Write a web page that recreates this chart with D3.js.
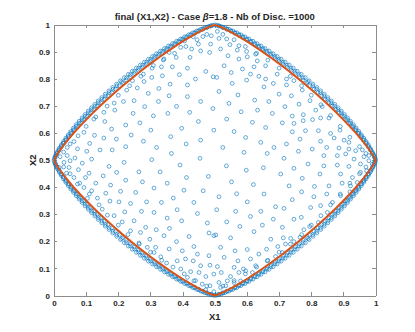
<!DOCTYPE html>
<html>
<head>
<meta charset="utf-8">
<script src="https://cdn.jsdelivr.net/npm/d3@7"></script>
<style>
  body { margin: 0; background: #fff; }
  text { font-family: "Liberation Sans", Arial, Helvetica, sans-serif; fill: #262626; }
</style>
</head>
<body>
<div id="scatter"></div>
<script>
// tick values and labels (same for X1 and X2)
var ticks = [0, 0.1, 0.2, 0.3, 0.4, 0.5, 0.6, 0.7, 0.8, 0.9, 1];
var tickLabels = ["0", "0.1", "0.2", "0.3", "0.4", "0.5", "0.6", "0.7", "0.8", "0.9", "1"];

// orange boundary line, [X1, X2]
var boundary = [
  [0.5,1],[0.51,0.9962],[0.525,0.9885],[0.55,0.9735],[0.575,0.9569],[0.6,0.939],[0.625,0.9197],[0.65,0.8995],[0.675,0.8787],[0.7,0.8568],[0.725,0.8341],[0.75,0.8106],[0.7806,0.7806],[0.8106,0.75],[0.8341,0.725],[0.8568,0.7],[0.8787,0.675],[0.8995,0.65],[0.9197,0.625],[0.939,0.6],[0.9569,0.575],[0.9735,0.55],[0.9885,0.525],[0.9962,0.51],[1,0.5],
  [0.9962,0.49],[0.9885,0.475],[0.9735,0.45],[0.9569,0.425],[0.939,0.4],[0.9197,0.375],[0.8995,0.35],[0.8787,0.325],[0.8568,0.3],[0.8341,0.275],[0.8106,0.25],[0.7806,0.2194],[0.75,0.1894],[0.725,0.1659],[0.7,0.1432],[0.675,0.1213],[0.65,0.1005],[0.625,0.0803],[0.6,0.061],[0.575,0.0431],[0.55,0.0265],[0.525,0.0115],[0.51,0.0038],[0.5,0],
  [0.49,0.0038],[0.475,0.0115],[0.45,0.0265],[0.425,0.0431],[0.4,0.061],[0.375,0.0803],[0.35,0.1005],[0.325,0.1213],[0.3,0.1432],[0.275,0.1659],[0.25,0.1894],[0.2194,0.2194],[0.1894,0.25],[0.1659,0.275],[0.1432,0.3],[0.1213,0.325],[0.1005,0.35],[0.0803,0.375],[0.061,0.4],[0.0431,0.425],[0.0265,0.45],[0.0115,0.475],[0.0038,0.49],[0,0.5],
  [0.0038,0.51],[0.0115,0.525],[0.0265,0.55],[0.0431,0.575],[0.061,0.6],[0.0803,0.625],[0.1005,0.65],[0.1213,0.675],[0.1432,0.7],[0.1659,0.725],[0.1894,0.75],[0.2194,0.7806],[0.25,0.8106],[0.275,0.8341],[0.3,0.8568],[0.325,0.8787],[0.35,0.8995],[0.375,0.9197],[0.4,0.939],[0.425,0.9569],[0.45,0.9735],[0.475,0.9885],[0.49,0.9962],[0.5,1]
];

// discs packed on the edge, first row (just outside the orange line)
var edgeDiscsA = [
  [0.5,1],[0.5125,0.9958],[0.525,0.9902],[0.5375,0.9837],[0.55,0.9767],[0.5625,0.9692],[0.575,0.9613],[0.5875,0.953],[0.6,0.9444],[0.6125,0.9356],[0.625,0.9264],[0.6375,0.9169],[0.65,0.9072],[0.6625,0.8972],[0.675,0.887],[0.6875,0.8766],[0.7,0.8659],[0.7125,0.855],[0.725,0.8438],[0.7375,0.8324],[0.75,0.8207],[0.7625,0.8088],[0.775,0.7967],[0.786,0.786],[0.7967,0.775],[0.8088,0.7625],[0.8207,0.75],[0.8324,0.7375],[0.8438,0.725],[0.855,0.7125],[0.8659,0.7],[0.8766,0.6875],[0.887,0.675],[0.8972,0.6625],[0.9072,0.65],[0.9169,0.6375],[0.9264,0.625],[0.9356,0.6125],[0.9444,0.6],[0.953,0.5875],[0.9613,0.575],[0.9692,0.5625],[0.9767,0.55],[0.9837,0.5375],[0.9902,0.525],[0.9958,0.5125],[1,0.5],
  [0.5,0],[0.5125,0.0042],[0.525,0.0098],[0.5375,0.0163],[0.55,0.0233],[0.5625,0.0308],[0.575,0.0387],[0.5875,0.047],[0.6,0.0556],[0.6125,0.0644],[0.625,0.0736],[0.6375,0.0831],[0.65,0.0928],[0.6625,0.1028],[0.675,0.113],[0.6875,0.1234],[0.7,0.1341],[0.7125,0.145],[0.725,0.1562],[0.7375,0.1676],[0.75,0.1793],[0.7625,0.1912],[0.775,0.2033],[0.786,0.214],[0.7967,0.225],[0.8088,0.2375],[0.8207,0.25],[0.8324,0.2625],[0.8438,0.275],[0.855,0.2875],[0.8659,0.3],[0.8766,0.3125],[0.887,0.325],[0.8972,0.3375],[0.9072,0.35],[0.9169,0.3625],[0.9264,0.375],[0.9356,0.3875],[0.9444,0.4],[0.953,0.4125],[0.9613,0.425],[0.9692,0.4375],[0.9767,0.45],[0.9837,0.4625],[0.9902,0.475],[0.9958,0.4875],
  [0.4875,0.0042],[0.475,0.0098],[0.4625,0.0163],[0.45,0.0233],[0.4375,0.0308],[0.425,0.0387],[0.4125,0.047],[0.4,0.0556],[0.3875,0.0644],[0.375,0.0736],[0.3625,0.0831],[0.35,0.0928],[0.3375,0.1028],[0.325,0.113],[0.3125,0.1234],[0.3,0.1341],[0.2875,0.145],[0.275,0.1562],[0.2625,0.1676],[0.25,0.1793],[0.2375,0.1912],[0.225,0.2033],[0.214,0.214],[0.2033,0.225],[0.1912,0.2375],[0.1793,0.25],[0.1676,0.2625],[0.1562,0.275],[0.145,0.2875],[0.1341,0.3],[0.1234,0.3125],[0.113,0.325],[0.1028,0.3375],[0.0928,0.35],[0.0831,0.3625],[0.0736,0.375],[0.0644,0.3875],[0.0556,0.4],[0.047,0.4125],[0.0387,0.425],[0.0308,0.4375],[0.0233,0.45],[0.0163,0.4625],[0.0098,0.475],[0.0042,0.4875],[0,0.5],
  [0.4875,0.9958],[0.475,0.9902],[0.4625,0.9837],[0.45,0.9767],[0.4375,0.9692],[0.425,0.9613],[0.4125,0.953],[0.4,0.9444],[0.3875,0.9356],[0.375,0.9264],[0.3625,0.9169],[0.35,0.9072],[0.3375,0.8972],[0.325,0.887],[0.3125,0.8766],[0.3,0.8659],[0.2875,0.855],[0.275,0.8438],[0.2625,0.8324],[0.25,0.8207],[0.2375,0.8088],[0.225,0.7967],[0.214,0.786],[0.2033,0.775],[0.1912,0.7625],[0.1793,0.75],[0.1676,0.7375],[0.1562,0.725],[0.145,0.7125],[0.1341,0.7],[0.1234,0.6875],[0.113,0.675],[0.1028,0.6625],[0.0928,0.65],[0.0831,0.6375],[0.0736,0.625],[0.0644,0.6125],[0.0556,0.6],[0.047,0.5875],[0.0387,0.575],[0.0308,0.5625],[0.0233,0.55],[0.0163,0.5375],[0.0098,0.525],[0.0042,0.5125]
];

// discs packed on the edge, middle row
var edgeDiscsC = [
  [0.5125,0.9964],[0.525,0.9912],[0.5375,0.9853],[0.55,0.9787],[0.5625,0.9717],[0.575,0.9643],[0.5875,0.9565],[0.6,0.9483],[0.6125,0.9398],[0.625,0.931],[0.6375,0.9219],[0.65,0.9125],[0.6625,0.9029],[0.675,0.8929],[0.6875,0.8828],[0.7,0.8723],[0.7125,0.8616],[0.725,0.8507],[0.7375,0.8394],[0.75,0.828],[0.7625,0.8162],[0.775,0.8042],[0.7897,0.7897],[0.8042,0.775],[0.8162,0.7625],[0.828,0.75],[0.8394,0.7375],[0.8507,0.725],[0.8616,0.7125],[0.8723,0.7],[0.8828,0.6875],[0.8929,0.675],[0.9029,0.6625],[0.9125,0.65],[0.9219,0.6375],[0.931,0.625],[0.9398,0.6125],[0.9483,0.6],[0.9565,0.5875],[0.9643,0.575],[0.9717,0.5625],[0.9787,0.55],[0.9853,0.5375],[0.9912,0.525],[0.9964,0.5125],
  [0.5125,0.0036],[0.525,0.0088],[0.5375,0.0147],[0.55,0.0213],[0.5625,0.0283],[0.575,0.0357],[0.5875,0.0435],[0.6,0.0517],[0.6125,0.0602],[0.625,0.069],[0.6375,0.0781],[0.65,0.0875],[0.6625,0.0971],[0.675,0.1071],[0.6875,0.1172],[0.7,0.1277],[0.7125,0.1384],[0.725,0.1493],[0.7375,0.1606],[0.75,0.172],[0.7625,0.1838],[0.775,0.1958],[0.7897,0.2103],[0.8042,0.225],[0.8162,0.2375],[0.828,0.25],[0.8394,0.2625],[0.8507,0.275],[0.8616,0.2875],[0.8723,0.3],[0.8828,0.3125],[0.8929,0.325],[0.9029,0.3375],[0.9125,0.35],[0.9219,0.3625],[0.931,0.375],[0.9398,0.3875],[0.9483,0.4],[0.9565,0.4125],[0.9643,0.425],[0.9717,0.4375],[0.9787,0.45],[0.9853,0.4625],[0.9912,0.475],[0.9964,0.4875],
  [0.4875,0.0036],[0.475,0.0088],[0.4625,0.0147],[0.45,0.0213],[0.4375,0.0283],[0.425,0.0357],[0.4125,0.0435],[0.4,0.0517],[0.3875,0.0602],[0.375,0.069],[0.3625,0.0781],[0.35,0.0875],[0.3375,0.0971],[0.325,0.1071],[0.3125,0.1172],[0.3,0.1277],[0.2875,0.1384],[0.275,0.1493],[0.2625,0.1606],[0.25,0.172],[0.2375,0.1838],[0.225,0.1958],[0.2103,0.2103],[0.1958,0.225],[0.1838,0.2375],[0.172,0.25],[0.1606,0.2625],[0.1493,0.275],[0.1384,0.2875],[0.1277,0.3],[0.1172,0.3125],[0.1071,0.325],[0.0971,0.3375],[0.0875,0.35],[0.0781,0.3625],[0.069,0.375],[0.0602,0.3875],[0.0517,0.4],[0.0435,0.4125],[0.0357,0.425],[0.0283,0.4375],[0.0213,0.45],[0.0147,0.4625],[0.0088,0.475],[0.0036,0.4875],
  [0.4875,0.9964],[0.475,0.9912],[0.4625,0.9853],[0.45,0.9787],[0.4375,0.9717],[0.425,0.9643],[0.4125,0.9565],[0.4,0.9483],[0.3875,0.9398],[0.375,0.931],[0.3625,0.9219],[0.35,0.9125],[0.3375,0.9029],[0.325,0.8929],[0.3125,0.8828],[0.3,0.8723],[0.2875,0.8616],[0.275,0.8507],[0.2625,0.8394],[0.25,0.828],[0.2375,0.8162],[0.225,0.8042],[0.2103,0.7897],[0.1958,0.775],[0.1838,0.7625],[0.172,0.75],[0.1606,0.7375],[0.1493,0.725],[0.1384,0.7125],[0.1277,0.7],[0.1172,0.6875],[0.1071,0.675],[0.0971,0.6625],[0.0875,0.65],[0.0781,0.6375],[0.069,0.625],[0.0602,0.6125],[0.0517,0.6],[0.0435,0.5875],[0.0357,0.575],[0.0283,0.5625],[0.0213,0.55],[0.0147,0.5375],[0.0088,0.525],[0.0036,0.5125]
];

// discs packed on the edge, outermost row
var edgeDiscsB = [
  [0.5063,0.9987],[0.5188,0.9946],[0.5313,0.9895],[0.5438,0.9837],[0.5563,0.9774],[0.5688,0.9706],[0.5813,0.9634],[0.5938,0.9558],[0.6063,0.9478],[0.6188,0.9395],[0.6313,0.9309],[0.6438,0.922],[0.6563,0.9128],[0.6688,0.9034],[0.6813,0.8936],[0.6938,0.8835],[0.7063,0.8732],[0.7188,0.8626],[0.7313,0.8517],[0.7438,0.8406],[0.7563,0.8291],[0.7688,0.8174],[0.7813,0.8053],[0.7934,0.7934],[0.8053,0.7813],[0.8174,0.7688],[0.8291,0.7563],[0.8406,0.7438],[0.8517,0.7313],[0.8626,0.7188],[0.8732,0.7063],[0.8835,0.6938],[0.8936,0.6813],[0.9034,0.6688],[0.9128,0.6563],[0.922,0.6438],[0.9309,0.6313],[0.9395,0.6188],[0.9478,0.6063],[0.9558,0.5938],[0.9634,0.5813],[0.9706,0.5688],[0.9774,0.5563],[0.9837,0.5438],[0.9895,0.5313],[0.9946,0.5188],[0.9987,0.5063],
  [0.5063,0.0013],[0.5188,0.0054],[0.5313,0.0105],[0.5438,0.0163],[0.5563,0.0226],[0.5688,0.0294],[0.5813,0.0366],[0.5938,0.0442],[0.6063,0.0522],[0.6188,0.0605],[0.6313,0.0691],[0.6438,0.078],[0.6563,0.0872],[0.6688,0.0966],[0.6813,0.1064],[0.6938,0.1165],[0.7063,0.1268],[0.7188,0.1374],[0.7313,0.1483],[0.7438,0.1594],[0.7563,0.1709],[0.7688,0.1826],[0.7813,0.1947],[0.7934,0.2066],[0.8053,0.2187],[0.8174,0.2312],[0.8291,0.2437],[0.8406,0.2562],[0.8517,0.2687],[0.8626,0.2812],[0.8732,0.2937],[0.8835,0.3062],[0.8936,0.3187],[0.9034,0.3312],[0.9128,0.3437],[0.922,0.3562],[0.9309,0.3687],[0.9395,0.3812],[0.9478,0.3937],[0.9558,0.4062],[0.9634,0.4187],[0.9706,0.4312],[0.9774,0.4437],[0.9837,0.4562],[0.9895,0.4687],[0.9946,0.4812],[0.9987,0.4937],
  [0.4937,0.0013],[0.4812,0.0054],[0.4687,0.0105],[0.4562,0.0163],[0.4437,0.0226],[0.4312,0.0294],[0.4187,0.0366],[0.4062,0.0442],[0.3937,0.0522],[0.3812,0.0605],[0.3687,0.0691],[0.3562,0.078],[0.3437,0.0872],[0.3312,0.0966],[0.3187,0.1064],[0.3062,0.1165],[0.2937,0.1268],[0.2812,0.1374],[0.2687,0.1483],[0.2562,0.1594],[0.2437,0.1709],[0.2312,0.1826],[0.2187,0.1947],[0.2066,0.2066],[0.1947,0.2187],[0.1826,0.2312],[0.1709,0.2437],[0.1594,0.2562],[0.1483,0.2687],[0.1374,0.2812],[0.1268,0.2937],[0.1165,0.3062],[0.1064,0.3187],[0.0966,0.3312],[0.0872,0.3437],[0.078,0.3562],[0.0691,0.3687],[0.0605,0.3812],[0.0522,0.3937],[0.0442,0.4062],[0.0366,0.4187],[0.0294,0.4312],[0.0226,0.4437],[0.0163,0.4562],[0.0105,0.4687],[0.0054,0.4812],[0.0013,0.4937],
  [0.4937,0.9987],[0.4812,0.9946],[0.4687,0.9895],[0.4562,0.9837],[0.4437,0.9774],[0.4312,0.9706],[0.4187,0.9634],[0.4062,0.9558],[0.3937,0.9478],[0.3812,0.9395],[0.3687,0.9309],[0.3562,0.922],[0.3437,0.9128],[0.3312,0.9034],[0.3187,0.8936],[0.3062,0.8835],[0.2937,0.8732],[0.2812,0.8626],[0.2687,0.8517],[0.2562,0.8406],[0.2437,0.8291],[0.2312,0.8174],[0.2187,0.8053],[0.2066,0.7934],[0.1947,0.7813],[0.1826,0.7688],[0.1709,0.7563],[0.1594,0.7438],[0.1483,0.7313],[0.1374,0.7188],[0.1268,0.7063],[0.1165,0.6938],[0.1064,0.6813],[0.0966,0.6688],[0.0872,0.6563],[0.078,0.6438],[0.0691,0.6313],[0.0605,0.6188],[0.0522,0.6063],[0.0442,0.5938],[0.0366,0.5813],[0.0294,0.5688],[0.0226,0.5563],[0.0163,0.5438],[0.0105,0.5313],[0.0054,0.5188],[0.0013,0.5063]
];

// discs spread inside the domain
var innerDiscs = [
  // upper left
  [0.433,0.956],[0.463,0.957],[0.489,0.960],[0.406,0.941],[0.449,0.929],[0.487,0.929],[0.358,0.898],[0.394,0.917],[0.428,0.911],[0.456,0.904],[0.484,0.898],[0.342,0.874],[0.380,0.880],[0.423,0.880],[0.334,0.845],[0.368,0.845],[0.415,0.840],[0.472,0.828],[0.304,0.806],[0.337,0.812],[0.390,0.816],[0.440,0.800],[0.495,0.808],[0.280,0.791],[0.361,0.781],[0.415,0.778],[0.259,0.767],[0.293,0.747],[0.326,0.765],[0.358,0.738],[0.415,0.735],[0.456,0.717],[0.216,0.717],[0.249,0.720],[0.282,0.698],[0.325,0.717],[0.381,0.699],[0.494,0.691],[0.189,0.685],[0.246,0.673],[0.309,0.664],[0.354,0.673],[0.422,0.677],[0.158,0.643],[0.223,0.630],[0.267,0.638],[0.301,0.611],[0.397,0.618],[0.449,0.643],[0.126,0.592],[0.179,0.615],[0.240,0.593],[0.497,0.611],[0.111,0.562],[0.155,0.582],[0.194,0.578],[0.278,0.570],[0.363,0.587],[0.456,0.574],[0.102,0.533],[0.143,0.538],[0.181,0.538],[0.223,0.550],[0.319,0.547],[0.411,0.560],[0.117,0.504],[0.304,0.502],[0.365,0.525],[0.454,0.507],[0.093,0.603],[0.062,0.569],[0.041,0.547],[0.073,0.542],[0.019,0.513],[0.041,0.517],[0.065,0.508],[0.124,0.652],[0.155,0.677],[0.187,0.711],[0.226,0.759],[0.244,0.794],[0.278,0.818],[0.309,0.850],
  [0.03,0.53],[0.05,0.56],[0.075,0.59],[0.10,0.625],[0.13,0.66],[0.165,0.70],[0.2,0.74],[0.235,0.775],[0.27,0.81],[0.305,0.84],[0.34,0.87],[0.375,0.895],[0.41,0.92],[0.445,0.945],[0.475,0.965],
  // upper right
  [0.508,0.976],[0.513,0.950],[0.537,0.948],[0.547,0.927],[0.575,0.923],[0.518,0.911],[0.570,0.907],[0.599,0.902],[0.541,0.886],[0.601,0.882],[0.627,0.892],[0.575,0.874],[0.632,0.867],[0.529,0.849],[0.586,0.837],[0.622,0.845],[0.658,0.849],[0.551,0.824],[0.611,0.818],[0.637,0.810],[0.694,0.818],[0.506,0.806],[0.599,0.796],[0.658,0.800],[0.723,0.800],[0.554,0.784],[0.653,0.771],[0.682,0.784],[0.723,0.778],[0.746,0.794],[0.513,0.754],[0.572,0.741],[0.624,0.722],[0.700,0.744],[0.738,0.738],[0.772,0.759],[0.544,0.710],[0.668,0.717],[0.718,0.698],[0.762,0.707],[0.796,0.720],[0.582,0.679],[0.633,0.685],[0.679,0.673],[0.741,0.663],[0.775,0.668],[0.814,0.685],[0.834,0.698],[0.537,0.652],[0.617,0.640],[0.710,0.638],[0.746,0.636],[0.775,0.646],[0.804,0.650],[0.829,0.656],[0.855,0.656],[0.560,0.606],[0.596,0.584],[0.658,0.621],[0.741,0.605],[0.782,0.609],[0.822,0.609],[0.860,0.599],[0.889,0.611],[0.643,0.566],[0.723,0.560],[0.765,0.578],[0.829,0.570],[0.871,0.582],[0.902,0.574],[0.917,0.566],[0.525,0.547],[0.684,0.547],[0.760,0.533],[0.803,0.541],[0.848,0.547],[0.886,0.545],[0.917,0.541],[0.938,0.535],[0.959,0.538],[0.591,0.529],[0.663,0.525],[0.715,0.507],[0.839,0.517],[0.881,0.517],[0.907,0.523],[0.933,0.504],[0.964,0.513],[0.979,0.517],
  [0.525,0.965],[0.56,0.945],[0.595,0.92],[0.63,0.895],[0.665,0.87],[0.70,0.84],[0.735,0.81],[0.77,0.775],[0.80,0.74],[0.83,0.705],[0.86,0.665],[0.89,0.625],[0.92,0.585],[0.95,0.55],[0.97,0.525],
  // lower left
  [0.031,0.492],[0.050,0.498],[0.088,0.489],[0.171,0.477],[0.218,0.492],[0.392,0.482],[0.016,0.473],[0.047,0.473],[0.076,0.465],[0.109,0.452],[0.153,0.442],[0.195,0.455],[0.264,0.457],[0.330,0.457],[0.412,0.436],[0.480,0.440],[0.039,0.452],[0.062,0.436],[0.098,0.436],[0.073,0.412],[0.093,0.399],[0.130,0.415],[0.176,0.408],[0.223,0.426],[0.275,0.420],[0.352,0.415],[0.404,0.389],[0.464,0.387],[0.117,0.387],[0.161,0.378],[0.207,0.385],[0.254,0.381],[0.311,0.397],[0.371,0.360],[0.435,0.344],[0.104,0.359],[0.135,0.360],[0.174,0.349],[0.202,0.346],[0.238,0.340],[0.288,0.346],[0.334,0.344],[0.383,0.317],[0.446,0.303],[0.150,0.319],[0.187,0.295],[0.220,0.309],[0.272,0.311],[0.311,0.307],[0.352,0.286],[0.397,0.276],[0.477,0.268],[0.166,0.297],[0.212,0.272],[0.249,0.276],[0.285,0.252],[0.318,0.243],[0.359,0.248],[0.420,0.218],[0.482,0.231],[0.238,0.239],[0.269,0.233],[0.298,0.208],[0.342,0.221],[0.381,0.199],[0.435,0.181],[0.497,0.221],[0.264,0.194],[0.290,0.178],[0.316,0.178],[0.358,0.172],[0.399,0.165],[0.446,0.153],[0.482,0.147],[0.311,0.159],[0.332,0.143],[0.383,0.128],[0.409,0.135],[0.433,0.128],[0.456,0.110],[0.485,0.112],[0.350,0.120],[0.394,0.098],[0.425,0.088],[0.451,0.085],[0.472,0.070],[0.497,0.079],[0.435,0.054],[0.461,0.042],[0.485,0.036],[0.472,0.021],[0.497,0.014],[0.415,0.067],
  [0.475,0.035],[0.44,0.055],[0.405,0.08],[0.37,0.105],[0.335,0.13],[0.30,0.16],[0.265,0.19],[0.23,0.225],[0.20,0.26],[0.14,0.335],[0.11,0.375],[0.08,0.415],[0.05,0.45],[0.03,0.475],
  // lower right
  [0.536,0.479],[0.598,0.463],[0.651,0.472],[0.746,0.470],[0.790,0.486],[0.839,0.479],[0.881,0.482],[0.917,0.477],[0.953,0.486],[0.979,0.498],[0.990,0.486],[0.552,0.420],[0.620,0.410],[0.705,0.449],[0.772,0.433],[0.827,0.449],[0.891,0.449],[0.928,0.436],[0.953,0.455],[0.972,0.461],[0.513,0.365],[0.568,0.376],[0.653,0.375],[0.731,0.405],[0.770,0.383],[0.810,0.403],[0.855,0.405],[0.896,0.415],[0.922,0.405],[0.943,0.418],[0.601,0.346],[0.689,0.328],[0.741,0.354],[0.808,0.365],[0.848,0.375],[0.891,0.369],[0.920,0.383],[0.506,0.317],[0.565,0.311],[0.643,0.311],[0.715,0.322],[0.769,0.289],[0.798,0.325],[0.829,0.332],[0.866,0.344],[0.537,0.272],[0.611,0.292],[0.682,0.282],[0.710,0.252],[0.746,0.282],[0.822,0.270],[0.850,0.307],[0.503,0.224],[0.549,0.213],[0.578,0.255],[0.622,0.236],[0.648,0.260],[0.674,0.208],[0.713,0.213],[0.736,0.211],[0.777,0.243],[0.795,0.255],[0.518,0.178],[0.563,0.165],[0.601,0.170],[0.661,0.171],[0.696,0.181],[0.720,0.190],[0.746,0.199],[0.765,0.215],[0.529,0.141],[0.572,0.128],[0.611,0.135],[0.637,0.153],[0.663,0.128],[0.689,0.144],[0.710,0.159],[0.508,0.107],[0.560,0.104],[0.589,0.098],[0.627,0.110],[0.520,0.085],[0.549,0.070],[0.575,0.085],[0.596,0.091],[0.617,0.085],[0.513,0.048],[0.539,0.054],[0.560,0.048],[0.580,0.054],[0.518,0.030],[0.534,0.036],
  [0.97,0.475],[0.95,0.45],[0.92,0.415],[0.89,0.375],[0.86,0.335],[0.83,0.295],[0.80,0.26],[0.77,0.225],[0.735,0.19],[0.70,0.16],[0.665,0.13],[0.63,0.105],[0.595,0.08],[0.56,0.055],[0.525,0.035]
];

var svgWidth = 415;
var svgHeight = 332;

var margin = { top: 24.9, right: 39.4, bottom: 36.5, left: 54 };
var width = svgWidth - margin.left - margin.right;
var height = svgHeight - margin.top - margin.bottom;

var svg = d3.select("#scatter").append("svg")
  .attr("width", svgWidth)
  .attr("height", svgHeight)
  .style("display", "block");

var chartGroup = svg.append("g")
  .attr("transform", `translate(${margin.left}, ${margin.top})`);

var xScale = d3.scaleLinear().domain([0, 1]).range([0, width]);
var yScale = d3.scaleLinear().domain([0, 1]).range([height, 0]);

var fmt = (d, i) => tickLabels[i];
var none = () => "";

// box + inward ticks on all four sides
chartGroup.append("g")
  .attr("transform", `translate(0, ${height})`)
  .call(d3.axisBottom(xScale).tickValues(ticks).tickFormat(fmt).tickSizeInner(-3.2).tickSizeOuter(0).tickPadding(4.5));
chartGroup.append("g")
  .call(d3.axisTop(xScale).tickValues(ticks).tickFormat(none).tickSizeInner(-3.2).tickSizeOuter(0));
chartGroup.append("g")
  .call(d3.axisLeft(yScale).tickValues(ticks).tickFormat(fmt).tickSizeInner(-3.2).tickSizeOuter(0).tickPadding(4));
chartGroup.append("g")
  .attr("transform", `translate(${width}, 0)`)
  .call(d3.axisRight(yScale).tickValues(ticks).tickFormat(none).tickSizeInner(-3.2).tickSizeOuter(0));

chartGroup.selectAll(".domain, .tick line")
  .attr("stroke", "#8c8c8c")
  .attr("stroke-width", 1)
  .attr("shape-rendering", "crispEdges");

chartGroup.selectAll(".tick text")
  .attr("fill", "#262626")
  .style("font-family", '"Liberation Sans", Arial, sans-serif')
  .style("font-size", "8px")
  .style("font-weight", "bold");

// discs
var allDiscs = edgeDiscsB.concat(edgeDiscsC, edgeDiscsA, innerDiscs);

chartGroup.append("g")
  .selectAll("circle")
  .data(allDiscs)
  .enter()
  .append("circle")
  .attr("cx", d => xScale(d[0]))
  .attr("cy", d => yScale(d[1]))
  .attr("r", 1.9)
  .attr("fill", "none")
  .attr("stroke", "#0072BD")
  .attr("stroke-width", 0.6);

// boundary line
var line = d3.line()
  .x(d => xScale(d[0]))
  .y(d => yScale(d[1]));

chartGroup.append("path")
  .datum(boundary)
  .attr("d", line)
  .attr("fill", "none")
  .attr("stroke", "#D95319")
  .attr("stroke-width", 2)
  .attr("stroke-linejoin", "round");

// title
var title = svg.append("text")
  .attr("x", margin.left + width / 2)
  .attr("y", 20)
  .attr("text-anchor", "middle")
  .style("font-size", "9.5px")
  .style("font-weight", "bold");
title.append("tspan").text("final (X1,X2) - Case ");
title.append("tspan").style("font-style", "italic").text("β");
title.append("tspan").text("=1.8 - Nb of Disc. =1000");

// axis labels
svg.append("text")
  .attr("x", margin.left + width / 2)
  .attr("y", 320)
  .attr("text-anchor", "middle")
  .style("font-size", "9.5px")
  .style("font-weight", "bold")
  .text("X1");

svg.append("text")
  .attr("transform", `translate(36, ${margin.top + height / 2}) rotate(-90)`)
  .attr("text-anchor", "middle")
  .style("font-size", "9.5px")
  .style("font-weight", "bold")
  .text("X2");
</script>
</body>
</html>
